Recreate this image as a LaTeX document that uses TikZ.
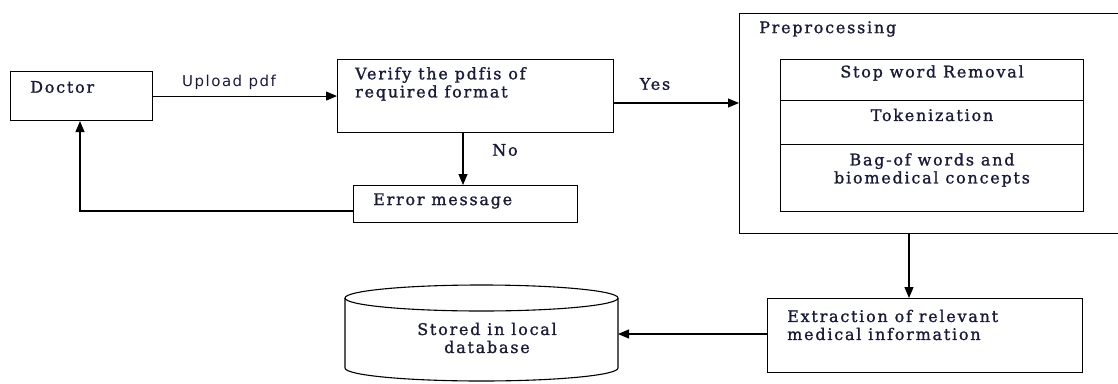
\documentclass[tikz,border=0pt]{standalone}
\usepackage{fontspec}
\usetikzlibrary{arrows.meta}
\newfontfamily\serf{DejaVu Serif}[LetterSpace=11,FakeBold=1.2,Ligatures=NoCommon]
\newfontfamily\sanf{DejaVu Sans}[LetterSpace=10]
\definecolor{txt}{RGB}{25,25,60}
\tikzset{
  box/.style={draw, line width=1.1pt, inner sep=0pt, anchor=north west},
  lbl/.style={inner sep=0pt, text=txt, font=\serf\fontsize{16}{18}\selectfont},
  slbl/.style={inner sep=0pt, text=txt, font=\sanf\fontsize{15}{17}\selectfont},
  conn/.style={line width=1.1pt, -{Triangle[length=11pt,width=9pt]}},
  plain/.style={line width=1.1pt}
}
\begin{document}
\begin{tikzpicture}[x=1pt,y=-1pt]
\clip (0,0) rectangle (1118,383);
\fill[white] (0,0) rectangle (1118,383);
% Doctor
\node[box, minimum width=142pt, minimum height=49pt] (doc) at (10,71) {};
\node[lbl, anchor=west] (doct) at (30,87) {Doctor};
% Verify
\node[box, minimum width=276pt, minimum height=73pt] (ver) at (337,59) {};
\node[lbl, anchor=west] (vert1) at (355,75) {Verify the pdfis of};
\node[lbl, anchor=west] (vert2) at (355,93) {required format};
% Error
\node[box, minimum width=224pt, minimum height=37pt] (err) at (353,185) {};
\node[lbl, anchor=west] (errt) at (373,201) {Error message};
% Preprocessing outer
\node[box, minimum width=400pt, minimum height=220pt] (pre) at (739,13) {};
\node[lbl, anchor=west] (pret) at (759,29) {Preprocessing};
% inner stack
\node[box, minimum width=303pt, minimum height=41pt] (stop) at (780,59) {};
\node[box, minimum width=303pt, minimum height=44pt] (tok) at (780,100) {};
\node[box, minimum width=303pt, minimum height=67pt] (bag) at (780,144) {};
\node[lbl] (stopt) at (932,73) {Stop word Removal};
\node[lbl] (tokt) at (932,115) {Tokenization};
\node[lbl, align=center] (bagt) at (932,170) {Bag-of words and\\biomedical concepts};
% Extraction
\node[box, minimum width=315pt, minimum height=74pt] (ext) at (767,298) {};
\node[lbl, anchor=west] (ext1) at (787,316) {Extraction of relevant};
\node[lbl, anchor=west] (ext2) at (787,334) {medical information};
% Database cylinder
\draw[plain] (481.5,298) ellipse [x radius=136.5pt, y radius=13pt];
\draw[plain] (345,298) -- (345,368) arc[start angle=180, end angle=360, x radius=136.5pt, y radius=13pt] -- (618,298);
\coordinate (dbr) at (618,334);
\node[lbl, align=center] (dbt) at (487,338) {Stored in local\\database};
% labels
\node[slbl] (up) at (229,82) {Upload pdf};
\node[lbl] (yes) at (655,84) {Yes};
\node[lbl] (no) at (505,150) {No};
% connectors
\draw[conn] (doc.east) -- (ver.west |- doc.east);
\draw[conn] (ver.east |- 0,103) -- (pre.west |- 0,103);
\draw[conn] (ver.south -| 463,0) -- (err.north -| 463,0);
\draw[conn] (err.west |- 0,211) -- (80,211) -- (doc.south -| 80,0);
\draw[conn] (pre.south -| 909,0) -- (ext.north -| 909,0);
\draw[conn] (ext.west |- 0,334) -- (dbr);
\end{tikzpicture}
\end{document}
